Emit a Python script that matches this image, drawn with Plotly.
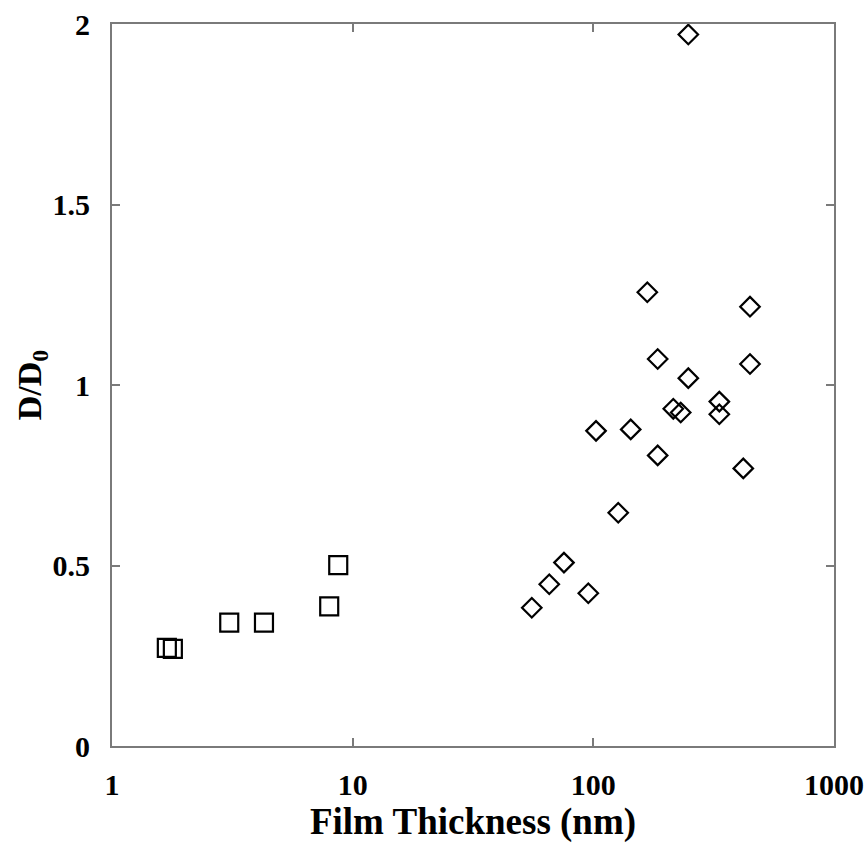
import plotly.graph_objects as go

# Squares series (thin films)
sq_x = [1.69, 1.79, 3.07, 4.28, 7.99, 8.71]
sq_y = [0.272, 0.269, 0.342, 0.342, 0.387, 0.501]

# Diamonds series (thicker films)
dm_x = [248.1, 167.6, 447.7, 185.1, 447.7, 248.1, 333.8, 333.8, 214.9, 230.7,
        102.6, 143.0, 185.1, 419.8, 126.9, 75.5, 65.6, 55.5, 95.3]
dm_y = [1.971, 1.257, 1.217, 1.072, 1.058, 1.019, 0.954, 0.919, 0.934, 0.924,
        0.873, 0.877, 0.805, 0.769, 0.646, 0.508, 0.448, 0.383, 0.423]

x_ticks = [1, 10, 100, 1000]
x_ticktext = ["1", "10", "100", "1000"]
y_ticks = [0, 0.5, 1, 1.5, 2]
y_ticktext = ["0", "0.5", "1", "1.5", "2"]

font_family = "Liberation Serif"

fig = go.Figure()
fig.add_trace(go.Scatter(
    x=sq_x, y=sq_y, mode="markers",
    marker=dict(symbol="square-open", size=18, color="black",
                line=dict(width=2.2, color="black")),
    showlegend=False,
))
fig.add_trace(go.Scatter(
    x=dm_x, y=dm_y, mode="markers",
    marker=dict(symbol="diamond-open", size=15, color="black",
                line=dict(width=2.2, color="black")),
    showlegend=False,
))

axis_common = dict(
    showline=True, linecolor="#7a7a7a", linewidth=2, mirror="ticks",
    ticks="inside", ticklen=8, tickwidth=2, tickcolor="#7a7a7a",
    showgrid=False, zeroline=False, automargin=False,
    tickfont=dict(family=font_family, size=30, color="black", weight="bold"),
)

fig.update_layout(
    width=868, height=848,
    margin=dict(l=112, r=34, t=24, b=102),
    plot_bgcolor="white", paper_bgcolor="white",
    font=dict(family=font_family, color="black"),
)
fig.update_xaxes(
    type="log", range=[0, 3], tickvals=x_ticks, ticktext=x_ticktext,
    title=dict(text="<b>Film Thickness (nm)</b>",
               font=dict(family=font_family, size=37, color="black"), standoff=0),
    ticklabelstandoff=11,
    **axis_common,
)
fig.update_yaxes(
    range=[0, 2], tickvals=y_ticks, ticktext=y_ticktext,
    title=dict(text="<b>D/D<sub>0</sub></b>",
               font=dict(family=font_family, size=34, color="black"), standoff=1),
    ticklabelstandoff=14,
    **axis_common,
)

fig.write_html("out.html")
